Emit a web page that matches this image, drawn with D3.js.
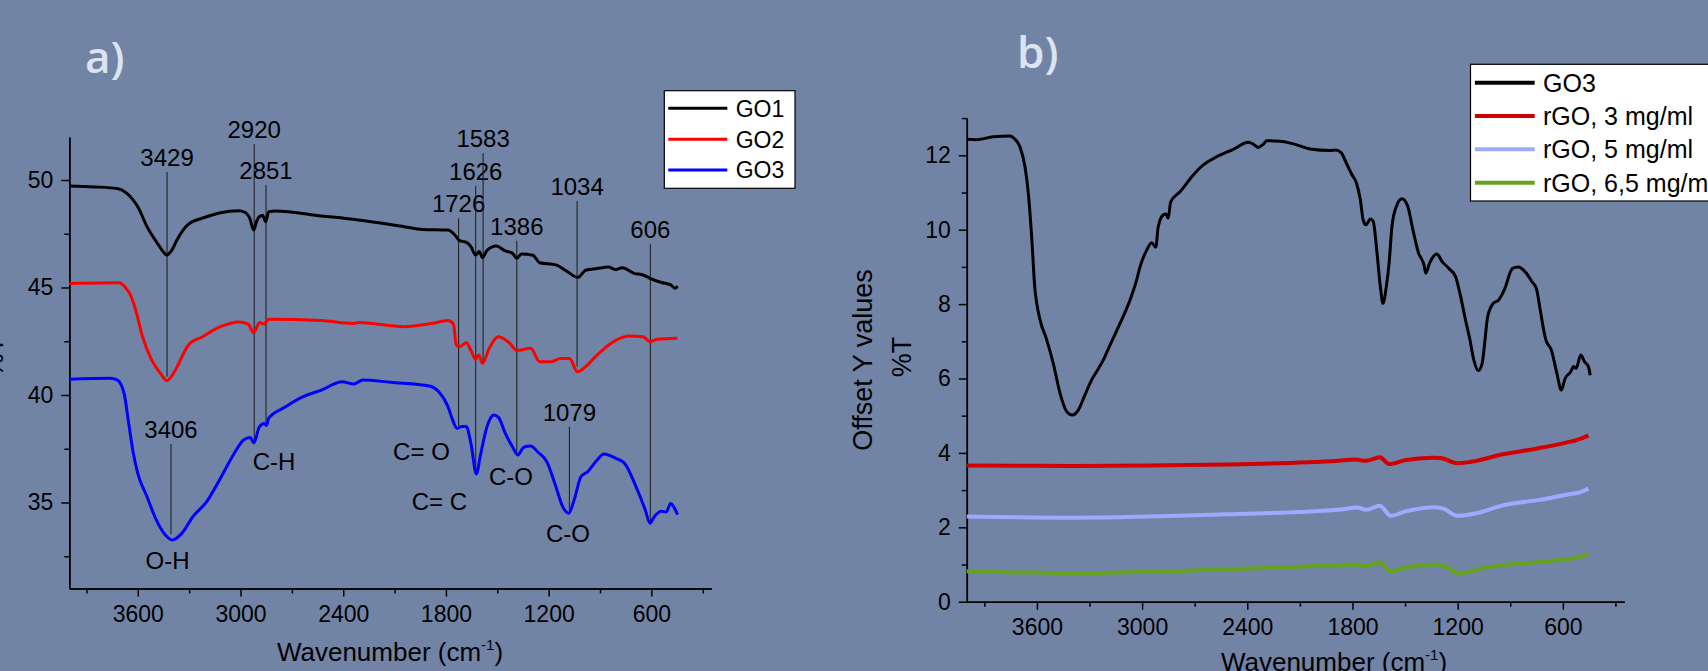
<!DOCTYPE html>
<html lang="en">
<head>
<meta charset="utf-8">
<title>FTIR spectra GO / rGO</title>
<script src="https://cdnjs.cloudflare.com/ajax/libs/d3/7.8.5/d3.min.js"></script>
<style>
  html, body { margin: 0; padding: 0; background: #7284a6; overflow: hidden; }
  svg { display: block; font-family: "Liberation Sans", Arial, sans-serif; }
  .panel-tag { font-family: "Open Sans", sans-serif; font-weight: 600; fill: #dde4f1; font-size: 44px; }
  .tick text { font-size: 23px; fill: #000; }
  .domain, .tick line { stroke: #000; stroke-width: 1.5; }
</style>
</head>
<body>
<svg id="chart" width="1708" height="671"></svg>
<script>
// ---- panel a: GO1, GO2, GO3  [wavenumber, %T]
const go1 = [[4000,49.72],[3850,49.68],[3720,49.6],[3667,49.4],[3630,49.1],[3600,48.76],[3546,47.83],[3479,46.98],[3450,46.65],[3431,46.51],[3400,46.75],[3372,47.2],[3304,47.95],[3224,48.22],[3117,48.48],[3010,48.57],[2975,48.5],[2945,48.2],[2923,47.67],[2905,48.1],[2889,48.3],[2870,48.35],[2853,48.06],[2835,48.53],[2795,48.56],[2527,48.33],[2312,48.14],[2044,47.83],[1936,47.7],[1788,47.67],[1748,47.44],[1721,47.18],[1680,47.1],[1654,46.9],[1627,46.51],[1605,46.67],[1587,46.39],[1560,46.73],[1506,46.93],[1453,46.7],[1412,46.6],[1386,46.36],[1359,46.56],[1292,46.5],[1252,46.15],[1158,46.05],[1091,45.74],[1030,45.47],[984,45.8],[917,45.88],[850,45.95],[810,45.83],[770,45.92],[701,45.66],[648,45.58],[608,45.43],[541,45.23],[487,45.12],[460,44.96],[447,45.07]];
const go2 = [[4000,45.19],[3712,45.22],[3672,45.0],[3640,44.6],[3614,44.0],[3572,42.71],[3519,41.63],[3465,40.98],[3430,40.67],[3400,40.9],[3370,41.32],[3304,42.33],[3224,42.7],[3117,43.18],[3010,43.4],[2955,43.3],[2923,42.9],[2889,43.37],[2862,43.3],[2835,43.52],[2527,43.46],[2339,43.33],[2312,43.37],[2044,43.18],[1883,43.33],[1788,43.46],[1756,43.3],[1740,42.33],[1721,42.25],[1680,42.43],[1654,42.07],[1627,41.66],[1608,41.86],[1587,41.47],[1547,42.17],[1493,42.71],[1426,42.4],[1386,42.07],[1305,42.17],[1252,41.55],[1185,41.55],[1131,41.7],[1078,41.7],[1032,41.08],[984,41.32],[917,41.86],[837,42.4],[730,42.74],[648,42.71],[608,42.48],[568,42.59],[447,42.64]];
const go3 = [[4000,40.73],[3761,40.78],[3720,40.7],[3680,40.08],[3653,38.68],[3626,37.29],[3600,36.36],[3546,35.27],[3492,34.19],[3439,33.49],[3399,33.26],[3345,33.54],[3278,34.34],[3197,35.04],[3117,36.13],[3036,37.29],[2982,37.91],[2942,38.02],[2923,37.77],[2889,38.53],[2862,38.68],[2848,38.59],[2835,38.92],[2741,39.43],[2634,39.92],[2527,40.23],[2406,40.62],[2339,40.51],[2285,40.7],[2124,40.59],[1896,40.42],[1843,40.16],[1788,39.46],[1761,38.84],[1735,38.45],[1708,38.53],[1681,38.53],[1654,37.75],[1622,36.33],[1600,37.14],[1560,38.53],[1520,39.07],[1493,38.96],[1453,38.22],[1412,37.6],[1380,37.21],[1345,37.57],[1305,37.63],[1265,37.36],[1211,36.9],[1158,35.74],[1118,34.81],[1083,34.5],[1051,35.12],[1011,36.21],[971,36.44],[917,36.98],[877,37.26],[810,37.06],[757,36.83],[690,35.74],[636,34.66],[608,34.04],[582,34.35],[541,34.59],[514,34.56],[487,34.95],[466,34.75],[447,34.44]];

// peak markers: wavenumber, top and bottom of the guide line (in %T)
const peakWn = [3429, 2920, 2851, 1726, 1626, 1583, 1386, 1034, 606, 3406, 1079];
const peakTop = [50.37, 51.67, 49.77, 48.22, 49.72, 51.24, 47.18, 49.02, 47.01, 37.72, 38.53];
const peakBottom = [40.85, 37.78, 38.53, 38.53, 36.36, 41.47, 37.29, 41.32, 34.11, 33.53, 34.57];

// band assignment labels
const bandText = ["O-H", "C-H", "C= O", "C= C", "C-O", "C-O"];
const bandWn = [3426, 2804, 1943, 1838, 1420, 1087];
const bandVal = [31.89, 36.51, 36.98, 34.65, 35.81, 33.15];

// ---- panel b: GO3 and rGO (offset)
const bGo3 = [[4000,12.43],[3944,12.42],[3849,12.5],[3754,12.52],[3725,12.43],[3697,12.23],[3668,11.69],[3649,10.98],[3630,9.81],[3611,8.38],[3601,8.02],[3582,7.57],[3544,7.04],[3507,6.41],[3468,5.6],[3430,5.11],[3398,5.02],[3364,5.15],[3326,5.56],[3288,5.96],[3260,6.18],[3221,6.5],[3183,6.9],[3126,7.48],[3069,8.11],[3031,8.65],[3012,9.0],[2974,9.45],[2945,9.65],[2922,9.53],[2908,10.08],[2879,10.4],[2864,10.42],[2851,10.31],[2837,10.75],[2784,11.02],[2708,11.47],[2651,11.74],[2574,11.96],[2480,12.16],[2394,12.35],[2366,12.3],[2337,12.21],[2308,12.3],[2289,12.39],[2213,12.38],[2118,12.28],[2042,12.17],[1928,12.13],[1897,12.14],[1865,12.07],[1834,11.78],[1802,11.47],[1777,11.25],[1755,10.8],[1739,10.26],[1723,10.13],[1698,10.29],[1682,10.23],[1660,9.37],[1641,8.47],[1626,8.02],[1607,8.47],[1591,9.1],[1575,10.08],[1550,10.62],[1518,10.83],[1487,10.66],[1455,9.99],[1423,9.37],[1392,9.05],[1382,8.83],[1360,9.1],[1319,9.35],[1288,9.14],[1250,8.96],[1212,8.74],[1187,8.29],[1155,7.57],[1130,7.04],[1108,6.5],[1082,6.21],[1060,6.41],[1044,7.04],[1029,7.66],[997,8.02],[966,8.11],[934,8.38],[887,8.96],[855,9.0],[808,8.83],[776,8.6],[751,8.42],[729,7.84],[697,7.04],[666,6.77],[634,6.14],[609,5.69],[587,6.0],[555,6.18],[539,6.32],[524,6.27],[498,6.63],[476,6.45],[454,6.32],[444,6.09]];
const rgo3 = [[4000,3.66],[3397,3.65],[2513,3.69],[1881,3.79],[1787,3.82],[1723,3.79],[1644,3.88],[1591,3.7],[1502,3.8],[1344,3.87],[1297,3.86],[1202,3.72],[1123,3.76],[934,3.97],[744,4.12],[587,4.27],[492,4.39],[454,4.47]];
const rgo5 = [[4000,2.29],[3397,2.26],[2513,2.35],[1881,2.47],[1771,2.53],[1723,2.47],[1644,2.58],[1581,2.31],[1502,2.42],[1329,2.54],[1281,2.5],[1202,2.31],[1092,2.38],[934,2.6],[744,2.73],[587,2.87],[492,2.96],[454,3.04]];
const rgo65 = [[4000,0.82],[3397,0.77],[2513,0.87],[1881,0.98],[1787,1.0],[1723,0.96],[1644,1.06],[1581,0.81],[1502,0.92],[1329,1.0],[1281,0.97],[1193,0.76],[1060,0.9],[934,0.99],[744,1.06],[587,1.14],[492,1.21],[454,1.3]];

const xMajor = [3600, 3000, 2400, 1800, 1200, 600];
const xMinor = [3900, 3300, 2700, 2100, 1500, 900, 300];
const yMajorA = [35, 40, 45, 50];
const yMinorA = [32.5, 37.5, 42.5, 47.5];
const yMajorB = [0, 2, 4, 6, 8, 10, 12];
const yMinorB = [1, 3, 5, 7, 9, 11, 13];

const legendA = [["GO1", "#000000"], ["GO2", "#ff0000"], ["GO3", "#0000ff"]];
const legendB = [["GO3", "#000000"], ["rGO, 3 mg/ml", "#d00000"], ["rGO, 5 mg/ml", "#9eaaff"], ["rGO, 6,5 mg/ml", "#64a21e"]];

const svg = d3.select("#chart");

// scales
const xA = d3.scaleLinear().domain([4000, 250]).range([69.3, 711.3]);
const yA = d3.scaleLinear().domain([31, 52]).range([588.5, 137]);
const xB = d3.scaleLinear().domain([4000, 250]).range([966.8, 1624.2]);
const yB = d3.scaleLinear().domain([0, 13]).range([601.7, 118.1]);

function drawAxes(x, y, yMaj, yMin) {
  const g = svg.append("g");
  const y0 = y.range()[0], x0 = x.range()[0];
  g.append("g").attr("transform", `translate(0,${y0})`)
    .call(d3.axisBottom(x).tickValues(xMinor.filter(v => v >= x.domain()[1])).tickSize(5).tickSizeOuter(0).tickFormat(""));
  g.append("g").attr("transform", `translate(0,${y0})`)
    .call(d3.axisBottom(x).tickValues(xMajor).tickSize(8).tickPadding(9).tickSizeOuter(0).tickFormat(d3.format("d")));
  g.append("g").attr("transform", `translate(${x0},0)`)
    .call(d3.axisLeft(y).tickValues(yMin).tickSize(5).tickSizeOuter(0).tickFormat(""));
  g.append("g").attr("transform", `translate(${x0},0)`)
    .call(d3.axisLeft(y).tickValues(yMaj).tickSize(8).tickPadding(8).tickSizeOuter(0).tickFormat(d3.format("d")));
}

function xTitle(cx, baseline) {
  const t = svg.append("text").attr("x", cx).attr("y", baseline)
    .attr("text-anchor", "middle").attr("font-size", 26).text("Wavenumber (cm");
  t.append("tspan").attr("font-size", 15).attr("dy", -11).text("-1");
  t.append("tspan").attr("dy", 11).text(")");
}

function drawLegend(items, bx, by, bw, bh, lx1, lx2, tx, ys, fs, lw) {
  const g = svg.append("g");
  g.append("rect").attr("x", bx).attr("y", by).attr("width", bw).attr("height", bh)
    .attr("fill", "#fff").attr("stroke", "#000").attr("stroke-width", 1.2);
  items.forEach((it, i) => {
    g.append("line").attr("x1", lx1).attr("x2", lx2).attr("y1", ys[i]).attr("y2", ys[i])
      .attr("stroke", it[1]).attr("stroke-width", lw);
    g.append("text").attr("x", tx).attr("y", ys[i]).attr("dy", "0.36em")
      .attr("font-size", fs).text(it[0]);
  });
}

// ----- panel a
drawAxes(xA, yA, yMajorA, yMinorA);

peakWn.forEach((w, i) => {
  svg.append("line").attr("x1", xA(w)).attr("x2", xA(w))
    .attr("y1", yA(peakTop[i])).attr("y2", yA(peakBottom[i]))
    .attr("stroke", "#1a1a1a").attr("stroke-width", 1);
  svg.append("text").attr("x", xA(w)).attr("y", yA(peakTop[i]) - 6)
    .attr("text-anchor", "middle").attr("font-size", 24).text(w);
});
bandText.forEach((t, i) => {
  svg.append("text").attr("x", xA(bandWn[i])).attr("y", yA(bandVal[i]))
    .attr("text-anchor", "middle").attr("font-size", 24).text(t);
});

const lineA = d3.line().x(d => xA(d[0])).y(d => yA(d[1])).curve(d3.curveMonotoneX);
[[go1, "#000000"], [go2, "#ff0000"], [go3, "#0000ff"]].forEach(s => {
  svg.append("path").attr("d", lineA(s[0])).attr("fill", "none")
    .attr("stroke", s[1]).attr("stroke-width", 3).attr("stroke-linejoin", "round");
});

xTitle(390, 661);
svg.append("text").attr("transform", "translate(3,357) rotate(-90)")
  .attr("text-anchor", "middle").attr("font-size", 27).text("%T");
drawLegend(legendA, 664.3, 90.7, 130.7, 97.6, 668.3, 727.3, 735.7, [108.3, 139.3, 170], 23, 3);
svg.append("text").attr("class", "panel-tag").attr("x", 85).attr("y", 73).text("a)");

// ----- panel b
drawAxes(xB, yB, yMajorB, yMinorB);
const lineB = d3.line().x(d => xB(d[0])).y(d => yB(d[1])).curve(d3.curveMonotoneX);
[[bGo3, legendB[0][1], 3], [rgo3, legendB[1][1], 4], [rgo5, legendB[2][1], 4], [rgo65, legendB[3][1], 4]].forEach(s => {
  svg.append("path").attr("d", lineB(s[0])).attr("fill", "none")
    .attr("stroke", s[1]).attr("stroke-width", s[2]).attr("stroke-linejoin", "round");
});
xTitle(1334, 671);
svg.append("text").attr("transform", "translate(872,360) rotate(-90)")
  .attr("text-anchor", "middle").attr("font-size", 27).text("Offset Y values");
svg.append("text").attr("transform", "translate(911,357) rotate(-90)")
  .attr("text-anchor", "middle").attr("font-size", 27).text("%T");
drawLegend(legendB, 1470.5, 64.3, 260, 136.7, 1474.9, 1534.7, 1543, [82.7, 116, 149.3, 182.7], 25, 4);
svg.append("text").attr("class", "panel-tag").attr("x", 1017).attr("y", 68).text("b)");
</script>
</body>
</html>
